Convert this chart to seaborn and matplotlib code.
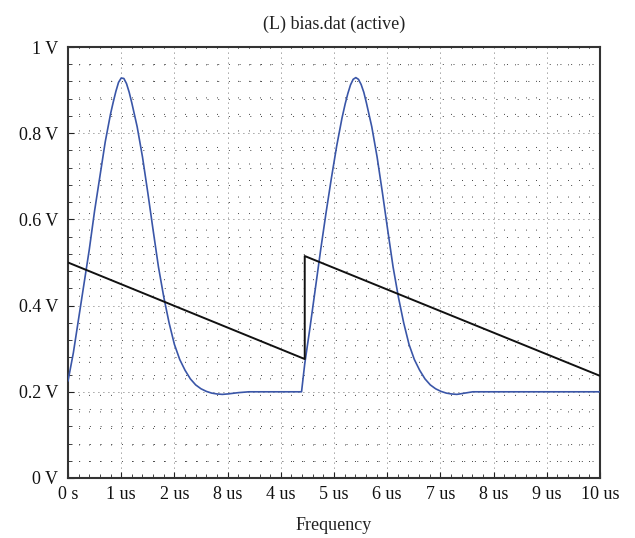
import numpy as np
import pandas as pd
import matplotlib
matplotlib.use("Agg")
import matplotlib.pyplot as plt
from matplotlib.ticker import MultipleLocator, FixedLocator, FixedFormatter
import seaborn as sns

# ---- data ----
blue_t = [0.0, 0.1, 0.2, 0.3, 0.4, 0.5, 0.6, 0.7, 0.8, 0.85, 0.9, 0.95, 1.0, 1.05, 1.1,
          1.15, 1.2, 1.3, 1.4, 1.5, 1.6, 1.7, 1.8, 1.9, 2.0, 2.1, 2.2, 2.3, 2.4, 2.5,
          2.6, 2.7, 2.8, 2.9, 3.0, 3.2, 3.4, 4.39,
          4.45, 4.55, 4.65, 4.75, 4.85, 4.95, 5.05, 5.15, 5.21, 5.26, 5.31, 5.36, 5.41,
          5.46, 5.51, 5.56, 5.61, 5.71, 5.81, 5.91, 6.01, 6.11, 6.21, 6.31, 6.41, 6.51,
          6.61, 6.71, 6.81, 6.91, 7.01, 7.11, 7.21, 7.31, 7.41, 7.61, 10.0]
blue_v = [0.225, 0.29, 0.37, 0.45, 0.53, 0.62, 0.70, 0.78, 0.845, 0.872, 0.897, 0.918,
          0.928, 0.927, 0.915, 0.895, 0.87, 0.815, 0.745, 0.662, 0.575, 0.49, 0.42,
          0.36, 0.31, 0.275, 0.25, 0.23, 0.216, 0.207, 0.201, 0.197, 0.195, 0.194,
          0.195, 0.198, 0.2, 0.2,
          0.265, 0.35, 0.44, 0.53, 0.615, 0.695, 0.77, 0.835, 0.868, 0.892, 0.912,
          0.925, 0.929, 0.925, 0.913, 0.895, 0.87, 0.815, 0.745, 0.662, 0.575, 0.49,
          0.42, 0.36, 0.31, 0.275, 0.25, 0.23, 0.216, 0.207, 0.201, 0.197, 0.195,
          0.194, 0.196, 0.2, 0.2]

black_t = [0.0, 4.45, 4.45, 10.0]
black_v = [0.50, 0.276, 0.515, 0.237]

x_ticks = [0, 1, 2, 3, 4, 5, 6, 7, 8, 9, 10]
x_labels = ["0 s", "1 us", "2 us", "8 us", "4 us", "5 us", "6 us", "7 us", "8 us", "9 us", "10 us"]
y_ticks = [0, 0.2, 0.4, 0.6, 0.8, 1.0]
y_labels = ["0 V", "0.2 V", "0.4 V", "0.6 V", "0.8 V", "1 V"]

title = "(L) bias.dat (active)"
xlabel = "Frequency"

# ---- style ----
sns.set_theme(style="white")
plt.rcParams["font.family"] = ["Liberation Serif", "DejaVu Serif"]

fig = plt.figure(figsize=(6.35, 5.38), dpi=100)
ax = fig.add_axes([68 / 635, 1 - 478 / 538, (600 - 68) / 635, (478 - 47) / 538])

df_b = pd.DataFrame({"t": blue_t, "v": blue_v})
df_k = pd.DataFrame({"t": black_t, "v": black_v})
sns.lineplot(data=df_b, x="t", y="v", ax=ax, color="#3a56a8", linewidth=1.2,
             sort=False, estimator=None, zorder=3)
sns.lineplot(data=df_k, x="t", y="v", ax=ax, color="#111111", linewidth=1.4,
             sort=False, estimator=None, zorder=4)

ax.set_xlim(0, 10)
ax.set_ylim(0, 1)
ax.xaxis.set_major_locator(FixedLocator(x_ticks))
ax.xaxis.set_major_formatter(FixedFormatter(x_labels))
ax.yaxis.set_major_locator(FixedLocator(y_ticks))
ax.yaxis.set_major_formatter(FixedFormatter(y_labels))
ax.xaxis.set_minor_locator(MultipleLocator(0.2))
ax.yaxis.set_minor_locator(MultipleLocator(0.04))

ax.tick_params(axis="both", which="both", direction="in", colors="#222222",
               bottom=True, left=True, top=False, right=False)
ax.tick_params(axis="both", which="major", length=4, width=0.8, labelsize=13,
               labelcolor="#111111")
ax.tick_params(axis="x", which="major", pad=6)
ax.tick_params(axis="y", which="major", pad=7)
ax.tick_params(axis="both", which="minor", length=3, width=0.6)

# dotted grids
ax.xaxis.grid(True, which="major", color="#444444", linestyle=(0, (1, 5)), linewidth=0.6)
ax.yaxis.grid(True, which="major", color="#444444", linestyle=(0, (1, 5)), linewidth=0.6)
ax.xaxis.grid(True, which="minor", color="#444444", linestyle=(0, (1, 16)), linewidth=0.7)
ax.yaxis.grid(True, which="minor", color="#444444", linestyle=(0, (1, 10)), linewidth=0.7)
ax.set_axisbelow(True)

for s in ax.spines.values():
    s.set_color("#333333")
    s.set_linewidth(1.5)
    s.set_visible(True)

ax.set_title(title, fontsize=13, color="#222222", pad=13)
ax.set_xlabel(xlabel, fontsize=13, color="#222222", labelpad=10)
ax.set_ylabel("")

fig.savefig("out.png", dpi=100, facecolor="white")
